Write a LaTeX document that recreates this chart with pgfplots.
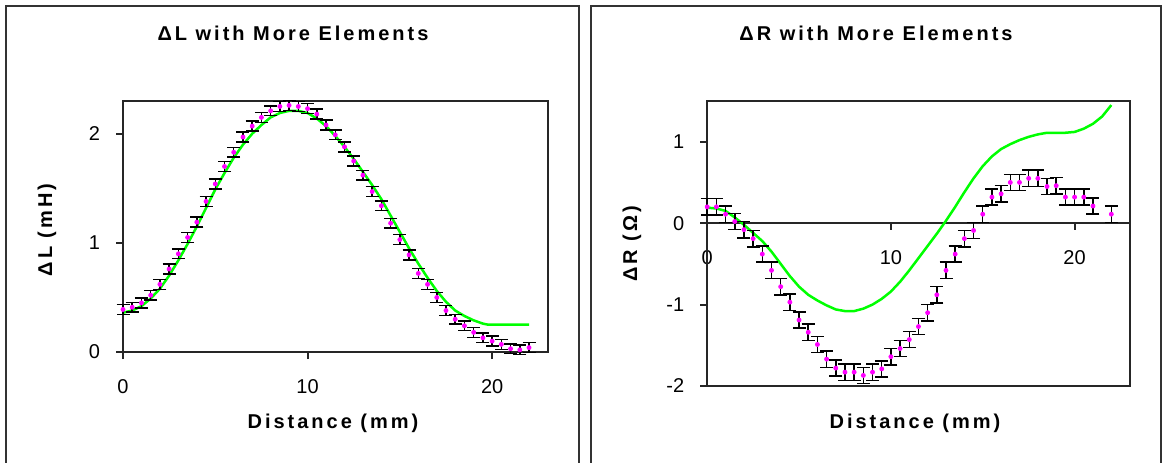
\documentclass[border=0pt]{standalone}
\usepackage{fontspec}
\setmainfont{Liberation Sans}
\newfontfamily\spbf[LetterSpace=15]{Liberation Sans}
\usepackage{pgfplots}
\pgfplotsset{compat=1.18}
\usepackage{pgfplotstable}
\definecolor{lgreen}{RGB}{0,255,0}
\definecolor{mag}{RGB}{255,0,255}
\newcommand\ttl[1]{{\spbf\bfseries\fontsize{10}{12}\selectfont #1}}

\pgfplotstableread{
x y
0 0.39
0.5 0.41
1.0 0.45
1.5 0.52
2.0 0.62
2.5 0.76
3.0 0.90
3.5 1.05
4.0 1.19
4.5 1.38
5.0 1.54
5.5 1.70
6.0 1.83
6.5 1.97
7.0 2.07
7.5 2.15
8.0 2.21
8.5 2.25
9.0 2.26
9.5 2.25
10.0 2.23
10.5 2.18
11.0 2.08
11.5 1.99
12.0 1.88
12.5 1.75
13.0 1.62
13.5 1.47
14.0 1.34
14.5 1.18
15.0 1.03
15.5 0.89
16.0 0.72
16.5 0.62
17.0 0.50
17.5 0.38
18.0 0.30
18.5 0.24
19.0 0.18
19.5 0.13
20.0 0.10
20.5 0.07
21.0 0.03
21.5 0.02
22.0 0.04
}\Ldata

\pgfplotstableread{
x y
0 0.36
0.5 0.38
1 0.42
1.5 0.49
2 0.58
2.5 0.70
3 0.84
3.5 0.99
4 1.15
4.5 1.32
5 1.49
5.5 1.64
6 1.78
6.5 1.90
7 2.00
7.5 2.08
8 2.15
8.5 2.19
9 2.21
9.5 2.21
10 2.19
10.5 2.14
11 2.07
11.5 1.98
12 1.88
12.5 1.77
13 1.65
13.5 1.53
14 1.40
14.5 1.25
15 1.10
15.5 0.95
16 0.81
16.5 0.68
17 0.56
17.5 0.46
18 0.38
18.5 0.33
19 0.29
19.5 0.26
19.8 0.25
22 0.25
}\Lmodel

\pgfplotstableread{
x y
0 0.20
0.5 0.20
1.0 0.11
1.5 0.02
2.0 -0.08
2.5 -0.19
3.0 -0.38
3.5 -0.58
4.0 -0.78
4.5 -0.97
5.0 -1.19
5.5 -1.34
6.0 -1.49
6.5 -1.67
7.0 -1.78
7.5 -1.83
8.0 -1.83
8.5 -1.87
9.0 -1.83
9.5 -1.79
10.0 -1.64
10.5 -1.54
11.0 -1.43
11.5 -1.27
12.0 -1.10
12.5 -0.88
13.0 -0.58
13.5 -0.38
14.0 -0.19
14.5 -0.09
15.0 0.11
15.5 0.32
16.0 0.36
16.5 0.50
17.0 0.50
17.5 0.55
18.0 0.55
18.5 0.45
19.0 0.46
19.5 0.32
20.0 0.32
20.5 0.32
21.0 0.21
22.0 0.11
}\Rdata

\pgfplotstableread{
x y
0 0.19
0.5 0.18
1 0.15
1.5 0.07
2 -0.02
2.5 -0.12
3 -0.22
3.5 -0.35
4 -0.50
4.5 -0.65
5 -0.78
5.5 -0.88
6 -0.95
6.5 -1.01
7 -1.06
7.5 -1.08
8 -1.08
8.5 -1.05
9 -1.00
9.5 -0.93
10 -0.84
10.5 -0.72
11 -0.58
11.5 -0.43
12 -0.28
12.5 -0.13
13 0.03
13.5 0.20
14 0.38
14.5 0.55
15 0.70
15.5 0.82
16 0.91
16.5 0.97
17 1.02
17.5 1.06
18 1.09
18.5 1.11
19 1.11
19.5 1.11
20 1.12
20.5 1.16
21 1.22
21.5 1.31
22 1.45
}\Rmodel

\pgfplotsset{
  panel/.style={
    scale only axis, clip=false,
    axis line style={line width=1pt, black!85},
    tick style={line width=1pt, black!85},
    tick align=outside, major tick length=3.5pt,
    xmin=0, xmax=23,
    xtick={0,10,20}, xticklabels={0,10,20},
    ticklabel style={font=\fontsize{10}{12}\selectfont},
    xticklabel style={yshift=-6.5pt},
    yticklabel style={xshift=-4.5pt},
  },
  errs/.style={only marks, mark=*, mark size=1pt, color=mag,
    mark options={draw=mag, fill=mag},
    error bars/.cd, y dir=both, y fixed=#1,
    error bar style={line width=0.75pt, black},
    error mark options={rotate=90, line width=0.75pt, black, mark size=3.25pt}},
  model/.style={no marks, color=lgreen, line width=1.25pt},
}

\begin{document}
\begin{tikzpicture}
\path[use as bounding box] (0,0) rectangle (582pt,231pt);
\fill[white] (0,0) rectangle (582pt,231pt);
\draw[line width=1pt, black!80] (3pt,-10pt) -- (3pt,228pt) -- (289.5pt,228pt) -- (289.5pt,-10pt);
\draw[line width=1pt, black!80] (295.5pt,-10pt) -- (295.5pt,228pt) -- (580.5pt,228pt) -- (580.5pt,-10pt);

\node at (146.5pt,214.5pt) {\ttl{ΔL with More Elements}};
\node at (438pt,214.5pt) {\ttl{ΔR with More Elements}};
\node at (166.5pt,19.5pt) {\ttl{Distance (mm)}};
\node at (457.5pt,19.5pt) {\ttl{Distance (mm)}};
\node[rotate=90] at (23.5pt,116pt) {\ttl{ΔL (mH)}};
\node[rotate=90] at (316pt,109pt) {\ttl{ΔR (Ω)}};

\begin{axis}[panel, at={(61.5pt,55pt)}, anchor=south west,
  width=212.25pt, height=125.5pt, tick pos=left,
  ymin=0, ymax=2.3, ytick={0,1,2}, yticklabels={0,1,2}]
\addplot[model] table[x=x,y=y] {\Lmodel};
\addplot[errs=0.045] table[x=x,y=y] {\Ldata};
\end{axis}

\begin{axis}[panel, at={(353.6pt,38pt)}, anchor=south west,
  width=211.25pt, height=142.5pt,
  ymin=-2, ymax=1.5, ytick={-2,-1,0,1}, yticklabels={-2,-1,0,1},
  axis x line*=middle, axis y line*=left,
  xtick style={draw=none},
  hide obscured x ticks=false, hide obscured y ticks=false]
\draw[line width=1pt, black!85] (rel axis cs:0,0) rectangle (rel axis cs:1,1);
\draw[line width=1pt, black!85] (axis cs:0,0) -- ([yshift=-3.5pt]axis cs:0,0);
\draw[line width=1pt, black!85] (axis cs:10,0) -- ([yshift=-3.5pt]axis cs:10,0);
\draw[line width=1pt, black!85] (axis cs:20,0) -- ([yshift=-3.5pt]axis cs:20,0);
\addplot[model] table[x=x,y=y] {\Rmodel};
\addplot[errs=0.1] table[x=x,y=y] {\Rdata};
\end{axis}
\end{tikzpicture}
\end{document}
